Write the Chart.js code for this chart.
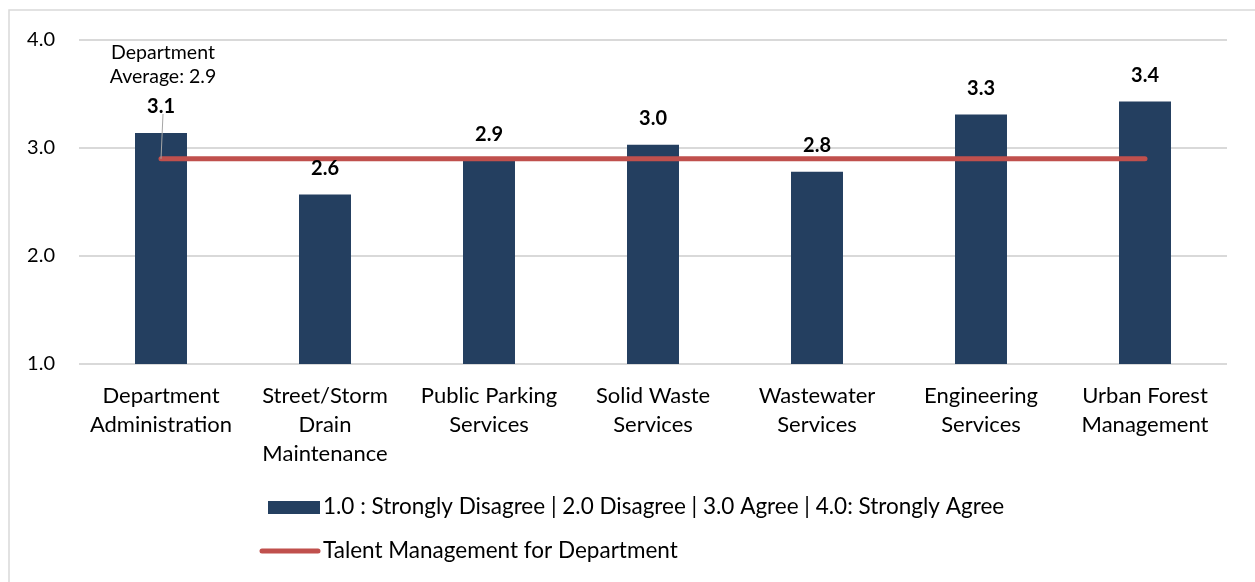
<!DOCTYPE html>
<html>
<head>
<meta charset="utf-8">
<script src="https://cdn.jsdelivr.net/npm/chart.js@4/dist/chart.umd.min.js"></script>
<style>
  html, body { margin: 0; padding: 0; background: #ffffff; }
  #wrap { position: relative; width: 1255px; height: 582px; }
</style>
</head>
<body>
<div id="wrap"><canvas id="c" width="1255" height="582"></canvas></div>
<script>
// ---- Data ----
const categories = [
  ["Department", "Administration"],
  ["Street/Storm", "Drain", "Maintenance"],
  ["Public Parking", "Services"],
  ["Solid Waste", "Services"],
  ["Wastewater", "Services"],
  ["Engineering", "Services"],
  ["Urban Forest", "Management"]
];
const scoreValues = [3.14, 2.57, 2.88, 3.03, 2.78, 3.31, 3.43];
const departmentAverage = [2.9, 2.9, 2.9, 2.9, 2.9, 2.9, 2.9];
const barSeriesName = "1.0 : Strongly Disagree | 2.0 Disagree | 3.0 Agree | 4.0: Strongly Agree";
const lineSeriesName = "Talent Management for Department";
const averageLabelLines = ["Department", "Average: 2.9"];
const yTicks = [1, 2, 3, 4];

const FONT = "Lato, 'Open Sans', 'Noto Sans', sans-serif";
const BAR_COLOR = "#243F60";
const LINE_COLOR = "#C0504D";
const GRID = "#D9D9D9";

const decoPlugin = {
  id: "deco",
  beforeDraw(chart) {
    const ctx = chart.ctx;
    ctx.save();
    ctx.fillStyle = "#ffffff";
    ctx.fillRect(0, 0, chart.width, chart.height);
    ctx.strokeStyle = GRID;
    ctx.lineWidth = 1.5;
    ctx.strokeRect(9, 10, chart.width + 20, chart.height + 20);
    ctx.restore();
  },
  afterDatasetsDraw(chart) {
    const ctx = chart.ctx;
    ctx.save();
    // bar value labels
    const barMeta = chart.getDatasetMeta(0);
    ctx.font = "bold 20px " + FONT;
    ctx.fillStyle = "#000000";
    ctx.textAlign = "center";
    ctx.textBaseline = "middle";
    barMeta.data.forEach((el, i) => {
      const v = chart.data.datasets[0].data[i];
      ctx.fillText(v.toFixed(1), el.x, el.y - 26);
    });
    // average annotation on first line point
    const lineMeta = chart.getDatasetMeta(1);
    const p = lineMeta.data[0];
    ctx.strokeStyle = "#A6A6A6";
    ctx.lineWidth = 1;
    ctx.beginPath();
    ctx.moveTo(p.x + 2, 114);
    ctx.lineTo(p.x, p.y);
    ctx.stroke();
    ctx.font = "19.5px " + FONT;
    ctx.fillStyle = "#000000";
    averageLabelLines.forEach((t, i) => {
      ctx.fillText(t, p.x + 2, 53 + i * 24);
    });
    ctx.restore();
  },
  afterDraw(chart) {
    const ctx = chart.ctx;
    ctx.save();
    const ds = chart.data.datasets;
    ctx.font = "22.5px " + FONT;
    ctx.fillStyle = "#000000";
    ctx.textAlign = "left";
    ctx.textBaseline = "middle";
    // row 1: bar
    ctx.fillStyle = ds[0].backgroundColor;
    ctx.fillRect(268, 501, 52, 13);
    ctx.fillStyle = "#000000";
    ctx.fillText(ds[0].label, 323, 507);
    // row 2: line
    ctx.strokeStyle = ds[1].borderColor;
    ctx.lineWidth = 5;
    ctx.lineCap = "round";
    ctx.beginPath();
    ctx.moveTo(262, 551);
    ctx.lineTo(318, 551);
    ctx.stroke();
    ctx.fillText(ds[1].label, 323, 551);
    ctx.restore();
  }
};

new Chart(document.getElementById("c"), {
  data: {
    labels: categories,
    datasets: [
      {
        type: "bar",
        label: barSeriesName,
        data: scoreValues,
        backgroundColor: BAR_COLOR,
        borderWidth: 0,
        categoryPercentage: 1.0,
        barPercentage: 0.317,
        order: 2
      },
      {
        type: "line",
        label: lineSeriesName,
        data: departmentAverage,
        borderColor: LINE_COLOR,
        backgroundColor: LINE_COLOR,
        borderWidth: 5,
        borderCapStyle: "round",
        pointRadius: 0,
        pointHoverRadius: 0,
        fill: false,
        tension: 0,
        order: 1
      }
    ]
  },
  options: {
    responsive: false,
    animation: false,
    devicePixelRatio: 1,
    layout: { padding: { left: 0, right: 28, top: 40, bottom: 0 } },
    plugins: {
      legend: { display: false },
      tooltip: { enabled: false }
    },
    scales: {
      x: {
        offset: true,
        grid: { display: false },
        border: { display: false },
        ticks: {
          color: "#000000",
          font: { family: FONT, size: 22, lineHeight: 1.33 },
          padding: 9,
          maxRotation: 0,
          autoSkip: false
        },
        afterFit(scale) { scale.height = 218; }
      },
      y: {
        min: 1,
        max: 4,
        afterBuildTicks(scale) { scale.ticks = yTicks.map(v => ({ value: v })); },
        grid: { color: GRID, lineWidth: 2, drawTicks: false },
        border: { display: false },
        ticks: {
          color: "#000000",
          font: { family: FONT, size: 20 },
          padding: 24,
          callback: v => Number(v).toFixed(1)
        },
        afterFit(scale) { scale.width = 79; }
      }
    }
  },
  plugins: [decoPlugin]
});
</script>
</body>
</html>
